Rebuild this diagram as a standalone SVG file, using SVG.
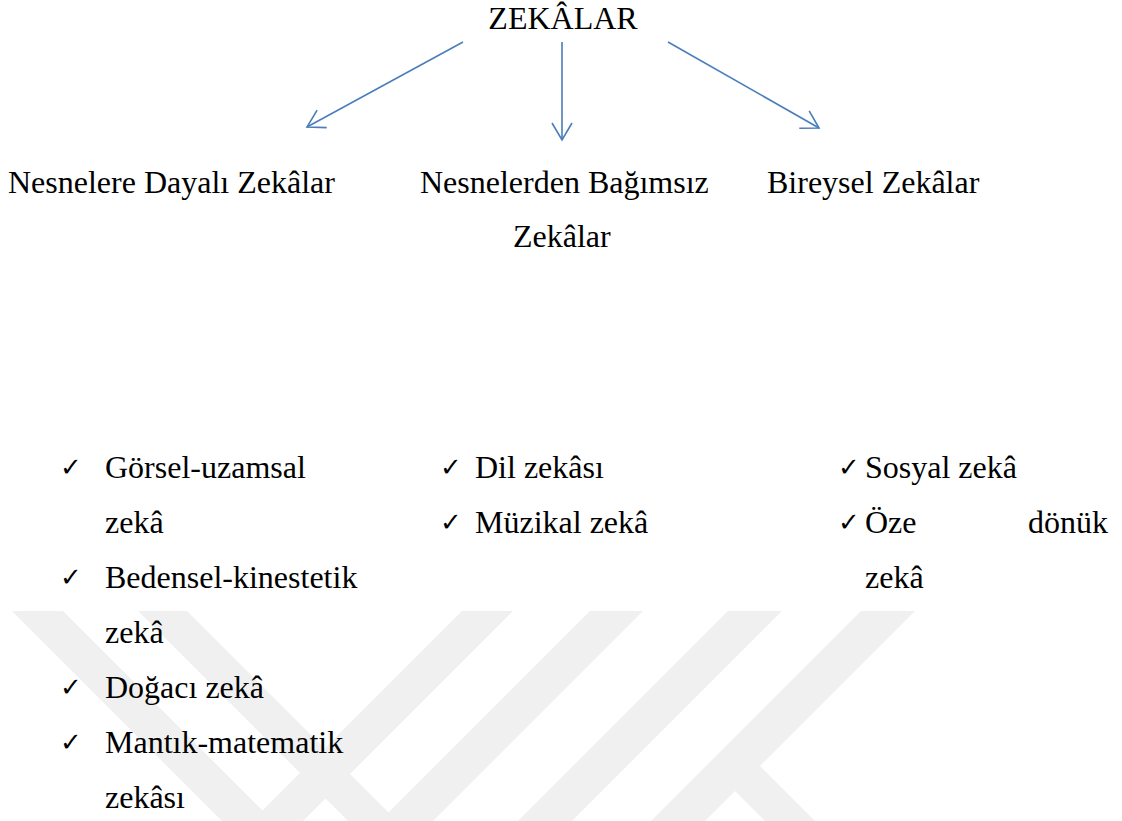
<svg xmlns="http://www.w3.org/2000/svg" width="1122" height="821" viewBox="0 0 1122 821">
<defs>
<style>
.t{font-family:"Liberation Serif","Times New Roman",serif;font-size:32px;fill:#000}
.ck{font-family:"DejaVu Sans",sans-serif;font-size:26px;fill:#000}
.c{stroke:#4a7ebb;stroke-width:1.6;fill:none}
.wm{fill:#f0f0f0}
</style>
<marker id="ah" markerUnits="userSpaceOnUse" markerWidth="24" markerHeight="24" viewBox="-20 -12 24 24" refX="0" refY="0" orient="auto">
<path d="M-17,-10 L0,0 L-17,10" stroke="#4a7ebb" stroke-width="1.6" fill="none"/>
</marker>
</defs>
<rect width="1122" height="821" fill="#ffffff"/>
<g id="watermark">
<polygon class="wm" points="12,611 63,611 273,821 222,821"/>
<polygon class="wm" points="138,611 187,611 397,821 348,821"/>
<polygon class="wm" points="462,611 513,611 303,821 252,821"/>
<polygon class="wm" points="590,611 643,611 433,821 380,821"/>
<polygon class="wm" points="728,611 782,611 572,821 518,821"/>
<polygon class="wm" points="861,611 915,611 705,821 651,821"/>
<polygon class="wm" points="760,766 815,821 765,821 733,789"/>
</g>
<g id="connectors">
<line class="c" x1="463" y1="42" x2="307" y2="127" marker-end="url(#ah)"/>
<line class="c" x1="562" y1="42" x2="562" y2="140" marker-end="url(#ah)"/>
<line class="c" x1="668" y1="42" x2="819" y2="128" marker-end="url(#ah)"/>
</g>
<g id="root"><text class="t" x="563" y="29" text-anchor="middle">ZEKÂLAR</text></g>
<g id="n1"><text class="t" x="8" y="193">Nesnelere Dayalı Zekâlar</text></g>
<g id="n2"><text class="t" x="420" y="193">Nesnelerden Bağımsız</text><text class="t" x="513" y="247">Zekâlar</text></g>
<g id="n3"><text class="t" x="767" y="193">Bireysel Zekâlar</text></g>
<g id="list1">
<text class="ck" x="60" y="476">✓</text>
<text class="t" x="105" y="478">Görsel-uzamsal</text>
<text class="t" x="105" y="533">zekâ</text>
<text class="ck" x="60" y="586">✓</text>
<text class="t" x="105" y="588">Bedensel-kinestetik</text>
<text class="t" x="105" y="643">zekâ</text>
<text class="ck" x="60" y="696">✓</text>
<text class="t" x="105" y="698">Doğacı zekâ</text>
<text class="ck" x="60" y="751">✓</text>
<text class="t" x="105" y="753">Mantık-matematik</text>
<text class="t" x="105" y="808">zekâsı</text>
</g>
<g id="list2">
<text class="ck" x="440" y="476">✓</text>
<text class="t" x="475" y="478">Dil zekâsı</text>
<text class="ck" x="440" y="531">✓</text>
<text class="t" x="475" y="533">Müzikal zekâ</text>
</g>
<g id="list3">
<text class="ck" x="838" y="476">✓</text>
<text class="t" x="865" y="478">Sosyal zekâ</text>
<text class="ck" x="838" y="531">✓</text>
<text class="t" x="865" y="533">Öze</text>
<text class="t" x="1108" y="533" text-anchor="end">dönük</text>
<text class="t" x="865" y="588">zekâ</text>
</g>
</svg>
